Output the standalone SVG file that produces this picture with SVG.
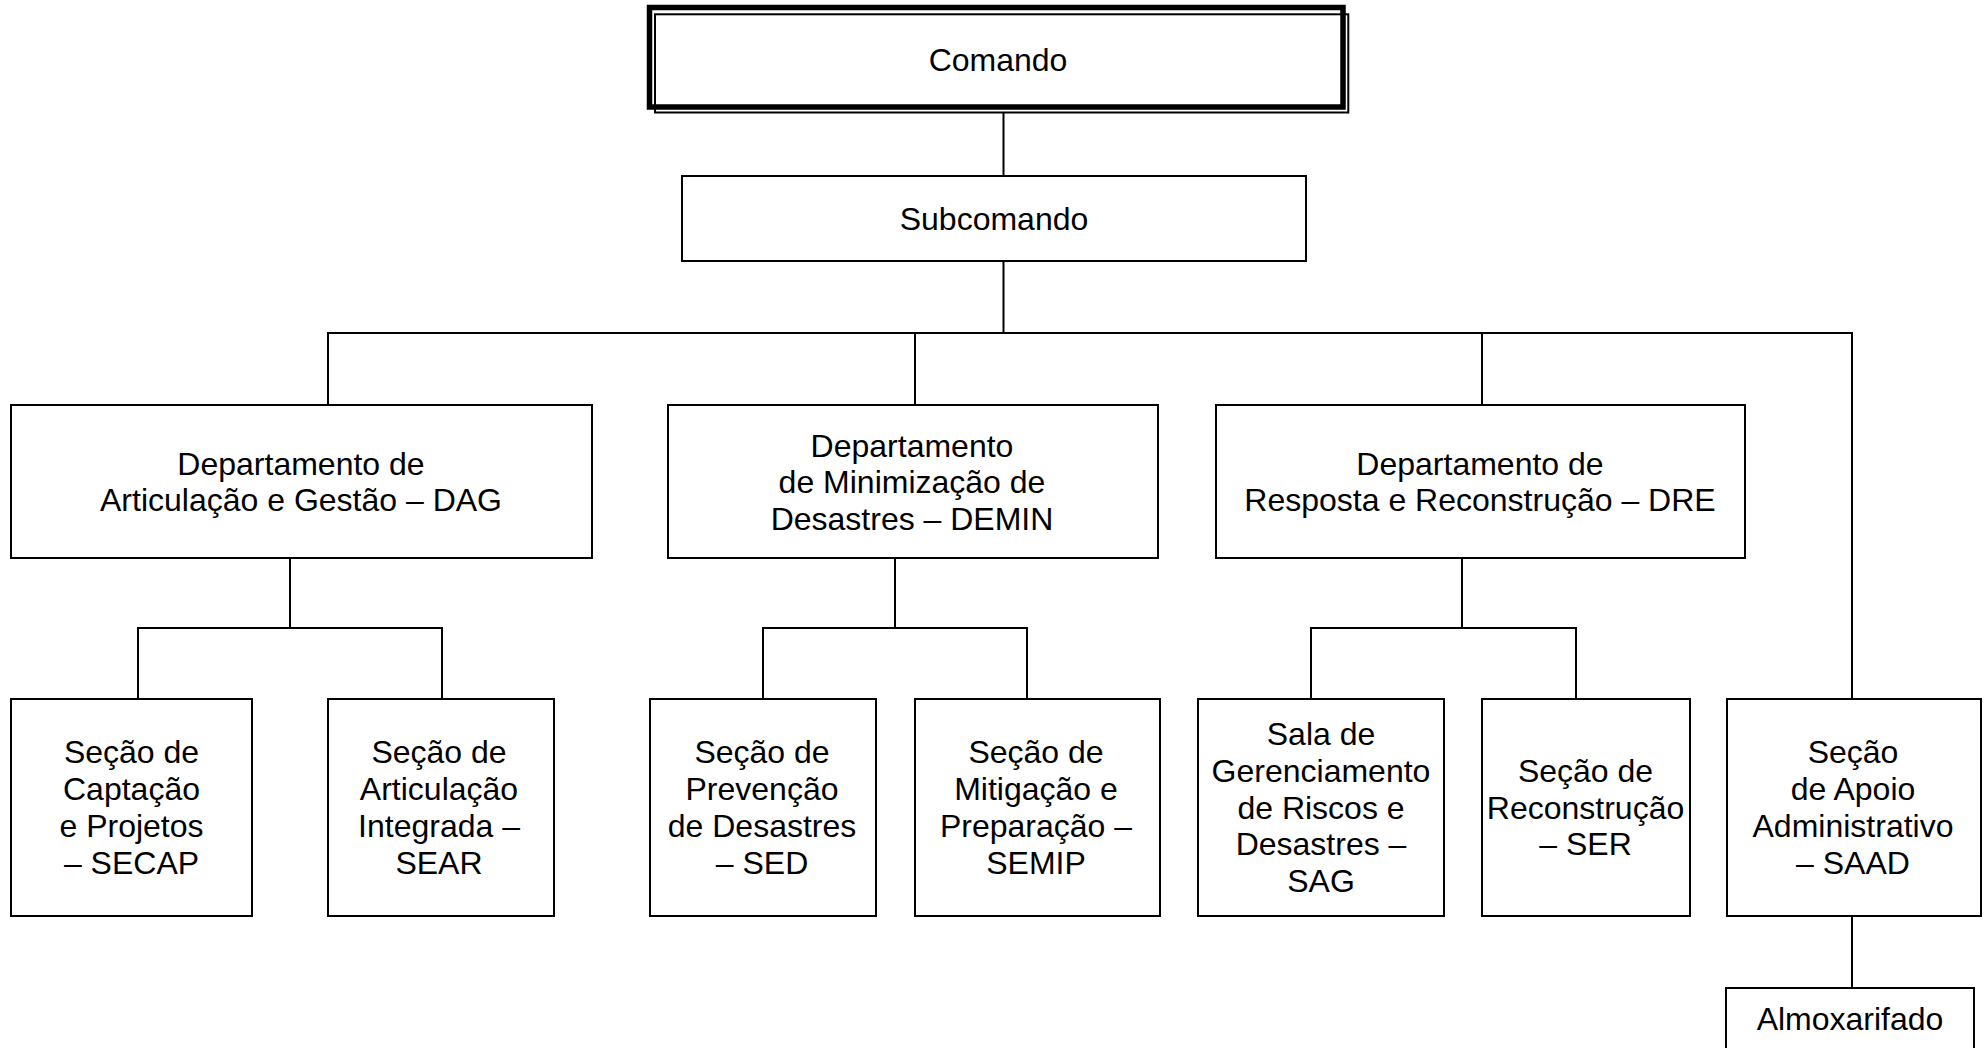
<svg xmlns="http://www.w3.org/2000/svg" width="1984" height="1048" viewBox="0 0 1984 1048">
<style>
  .box { fill: #ffffff; stroke: #000000; stroke-width: 2; }
  .conn { fill: none; stroke: #000000; stroke-width: 2; }
  .lbl { font-family: "Liberation Sans", Arial, sans-serif; font-size: 32px; fill: #000000; text-anchor: middle; }
</style>
<rect x="0" y="0" width="1984" height="1048" fill="#ffffff"/>
<g id="connectors">
  <path class="conn" d="M1003.5,113 V176"/>
  <path class="conn" d="M1003.5,261 V333"/>
  <path class="conn" d="M328,405 V333 H1852 V699"/>
  <path class="conn" d="M915,333 V405"/>
  <path class="conn" d="M1482,333 V405"/>
  <path class="conn" d="M290,558 V628"/>
  <path class="conn" d="M138,699 V628 H442 V699"/>
  <path class="conn" d="M895,558 V628"/>
  <path class="conn" d="M763,699 V628 H1027 V699"/>
  <path class="conn" d="M1462,558 V628"/>
  <path class="conn" d="M1311,699 V628 H1576 V699"/>
  <path class="conn" d="M1852,917 V988"/>
</g>
<g id="comando">
  <rect x="649.5" y="7.5" width="693.5" height="99.5" fill="#ffffff" stroke="#000" stroke-width="5.5"/>
  <rect x="655" y="14.3" width="693.3" height="98.2" fill="none" stroke="#000" stroke-width="2"/>
  <text class="lbl" x="998" y="71">Comando</text>
</g>
<g id="subcomando">
  <rect class="box" x="682" y="176" width="624" height="85"/>
  <text class="lbl" x="994" y="230">Subcomando</text>
</g>
<g id="dag">
  <rect class="box" x="11" y="405" width="581" height="153"/>
  <text class="lbl" x="301" y="474.6">Departamento de<tspan x="301" dy="36.8">Articulação e Gestão – DAG</tspan></text>
</g>
<g id="demin">
  <rect class="box" x="668" y="405" width="490" height="153"/>
  <text class="lbl" x="912" y="456.6">Departamento<tspan x="912" dy="36.8">de Minimização de</tspan><tspan x="912" dy="36.8">Desastres – DEMIN</tspan></text>
</g>
<g id="dre">
  <rect class="box" x="1216" y="405" width="529" height="153"/>
  <text class="lbl" x="1480" y="474.6">Departamento de<tspan x="1480" dy="36.8">Resposta e Reconstrução – DRE</tspan></text>
</g>
<g id="secap">
  <rect class="box" x="11" y="699" width="241" height="217"/>
  <text class="lbl" x="131.5" y="763.3">Seção de<tspan x="131.5" dy="36.8">Captação</tspan><tspan x="131.5" dy="36.8">e Projetos</tspan><tspan x="131.5" dy="36.8">– SECAP</tspan></text>
</g>
<g id="sear">
  <rect class="box" x="328" y="699" width="226" height="217"/>
  <text class="lbl" x="439" y="763.3">Seção de<tspan x="439" dy="36.8">Articulação</tspan><tspan x="439" dy="36.8">Integrada –</tspan><tspan x="439" dy="36.8">SEAR</tspan></text>
</g>
<g id="sed">
  <rect class="box" x="650" y="699" width="226" height="217"/>
  <text class="lbl" x="762" y="763.3">Seção de<tspan x="762" dy="36.8">Prevenção</tspan><tspan x="762" dy="36.8">de Desastres</tspan><tspan x="762" dy="36.8">– SED</tspan></text>
</g>
<g id="semip">
  <rect class="box" x="915" y="699" width="245" height="217"/>
  <text class="lbl" x="1036" y="763.3">Seção de<tspan x="1036" dy="36.8">Mitigação e</tspan><tspan x="1036" dy="36.8">Preparação –</tspan><tspan x="1036" dy="36.8">SEMIP</tspan></text>
</g>
<g id="sag">
  <rect class="box" x="1198" y="699" width="246" height="217"/>
  <text class="lbl" x="1321" y="744.9">Sala de<tspan x="1321" dy="36.8">Gerenciamento</tspan><tspan x="1321" dy="36.8">de Riscos e</tspan><tspan x="1321" dy="36.8">Desastres –</tspan><tspan x="1321" dy="36.8">SAG</tspan></text>
</g>
<g id="ser">
  <rect class="box" x="1482" y="699" width="208" height="217"/>
  <text class="lbl" x="1585.5" y="781.7">Seção de<tspan x="1585.5" dy="36.8">Reconstrução</tspan><tspan x="1585.5" dy="36.8">– SER</tspan></text>
</g>
<g id="saad">
  <rect class="box" x="1727" y="699" width="254" height="217"/>
  <text class="lbl" x="1853" y="763.3">Seção<tspan x="1853" dy="36.8">de Apoio</tspan><tspan x="1853" dy="36.8">Administrativo</tspan><tspan x="1853" dy="36.8">– SAAD</tspan></text>
</g>
<g id="almoxarifado">
  <rect class="box" x="1726" y="988" width="248" height="80"/>
  <text class="lbl" x="1850" y="1030">Almoxarifado</text>
</g>
</svg>
